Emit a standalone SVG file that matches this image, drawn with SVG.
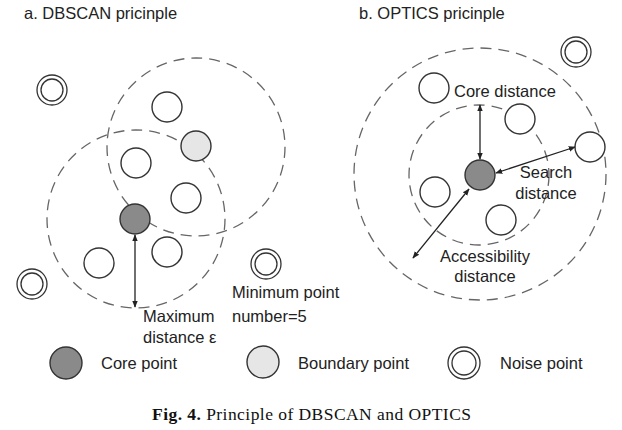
<svg xmlns="http://www.w3.org/2000/svg" width="622" height="430" viewBox="0 0 622 430">
<defs>
<marker id="ah" viewBox="0 0 10 10" refX="9" refY="5" markerWidth="7" markerHeight="7" orient="auto-start-reverse" markerUnits="userSpaceOnUse">
<path d="M0,1 L10,5 L0,9 z" fill="#222"/>
</marker>
<style>
.t{font-family:"Liberation Sans",Arial,sans-serif;font-size:16.5px;fill:#222}
.pt{fill:#fff;stroke:#333;stroke-width:1.4}
.core{fill:#8a8a8a;stroke:#333;stroke-width:1.4}
.bd{fill:#e6e6e6;stroke:#333;stroke-width:1.4}
.nz{fill:none;stroke:#333;stroke-width:1.3}
.dash{fill:none;stroke:#666;stroke-width:1.3;stroke-dasharray:11 7}
.arr{stroke:#222;stroke-width:1.3;fill:none;marker-start:url(#ah);marker-end:url(#ah)}
.cap{font-family:"Liberation Serif","Times New Roman",serif;font-size:17.5px;fill:#111}
</style>
</defs>
<rect width="622" height="430" fill="#fff"/>
<text class="t" x="24" y="19">a. DBSCAN pricinple</text>
<text class="t" x="359" y="19">b. OPTICS pricinple</text>

<g id="regions">
<circle class="dash" cx="196" cy="147" r="89"/>
<circle class="dash" cx="136" cy="219" r="89"/>
<circle class="dash" cx="480" cy="174" r="126"/>
<circle class="dash" cx="479" cy="175" r="70"/>
</g>

<g id="dbscan-points">
<circle class="pt" cx="167" cy="107" r="15"/>
<circle class="pt" cx="136" cy="163" r="15"/>
<circle class="bd" cx="196" cy="146" r="15"/>
<circle class="pt" cx="186" cy="198" r="15"/>
<circle class="core" cx="135" cy="219" r="15"/>
<circle class="pt" cx="167" cy="252" r="15"/>
<circle class="pt" cx="99" cy="263" r="15"/>
<g class="noise"><circle class="nz" cx="52" cy="90" r="15"/><circle class="nz" cx="52" cy="90" r="11"/></g>
<g class="noise"><circle class="nz" cx="32" cy="284" r="15"/><circle class="nz" cx="32" cy="284" r="11"/></g>
<g class="noise"><circle class="nz" cx="266" cy="264" r="15"/><circle class="nz" cx="266" cy="264" r="11"/></g>
</g>

<g id="optics-points">
<circle class="pt" cx="434" cy="88" r="15"/>
<circle class="pt" cx="520" cy="119" r="15"/>
<circle class="pt" cx="590" cy="147" r="15"/>
<circle class="pt" cx="435" cy="192" r="15"/>
<circle class="pt" cx="501" cy="220" r="15"/>
<circle class="core" cx="480" cy="175" r="15"/>
<g class="noise"><circle class="nz" cx="576" cy="52" r="15"/><circle class="nz" cx="576" cy="52" r="11"/></g>
</g>

<g id="connectors">
<line class="arr" x1="135" y1="235" x2="135" y2="307"/>
<line class="arr" x1="480" y1="105" x2="480" y2="159"/>
<line class="arr" x1="496" y1="173" x2="575" y2="147"/>
<line class="arr" x1="469" y1="189" x2="413" y2="258"/>
</g>

<g id="labels">
<text class="t" x="143" y="322">Maximum</text>
<text class="t" x="143" y="343">distance ε</text>
<text class="t" x="232" y="298">Minimum point</text>
<text class="t" x="232" y="322">number=5</text>
<text class="t" x="454" y="97">Core distance</text>
<text class="t" x="546" y="178" text-anchor="middle">Search</text>
<text class="t" x="546" y="199" text-anchor="middle">distance</text>
<text class="t" x="485" y="262" text-anchor="middle">Accessibility</text>
<text class="t" x="485" y="282" text-anchor="middle">distance</text>
</g>

<g id="legend">
<circle class="core" cx="66" cy="363" r="16"/>
<text class="t" x="101" y="369">Core point</text>
<circle class="bd" cx="263" cy="362" r="16"/>
<text class="t" x="298" y="369">Boundary point</text>
<circle class="nz" cx="464" cy="363" r="16"/>
<circle class="nz" cx="464" cy="363" r="12"/>
<text class="t" x="500" y="369">Noise point</text>
</g>

<text class="cap" x="152" y="420" textLength="319" lengthAdjust="spacing"><tspan font-weight="bold">Fig. 4.</tspan>  Principle of DBSCAN and OPTICS</text>
</svg>
